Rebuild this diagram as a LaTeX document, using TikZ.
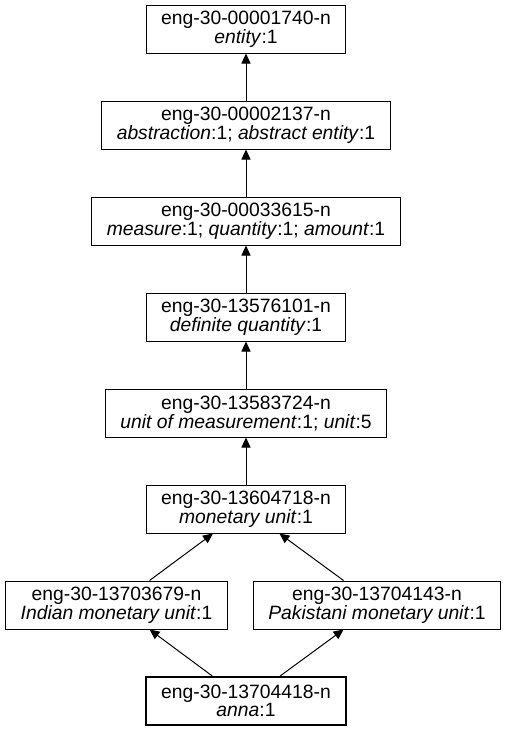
\documentclass[tikz,border=0pt]{standalone}
\usepackage{fontspec}
\setmainfont{Liberation Sans}
\usetikzlibrary{arrows.meta}

\tikzset{
  syn/.style={draw, line width=1pt, align=center, minimum width=198pt, minimum height=48pt,
    inner xsep=15pt, inner ysep=3pt, font=\fontsize{19.3}{16}\selectfont},
  leaf/.style={syn, line width=2pt}
}

\begin{document}
\begin{tikzpicture}[x=1pt, y=-1pt, >={Triangle[length=10pt,width=9pt]}]
\useasboundingbox (0,0) rectangle (507,731);
\node[syn] (entity) at (246,29) {eng-30-00001740-n\\\textit{entity}:1};
\node[syn] (abstraction) at (246,125) {eng-30-00002137-n\\\textit{abstraction}:1; \textit{abstract entity}:1};
\node[syn] (measure) at (246,221) {eng-30-00033615-n\\\textit{measure}:1; \textit{quantity}:1; \textit{amount}:1};
\node[syn] (definite) at (246,317) {eng-30-13576101-n\\\textit{definite quantity}:1};
\node[syn] (unit) at (246,413) {eng-30-13583724-n\\\textit{unit of measurement}:1; \textit{unit}:5};
\node[syn] (monetary) at (246,509) {eng-30-13604718-n\\\textit{monetary unit}:1};
\node[syn] (indian) at (116.5,605) {eng-30-13703679-n\\\textit{Indian monetary unit}:1};
\node[syn] (pakistani) at (377,605) {eng-30-13704143-n\\\textit{Pakistani monetary unit}:1};
\node[leaf] (anna) at (246,701) {eng-30-13704418-n\\\textit{anna}:1};
\draw[->, line width=1pt] (abstraction) -- (entity);
\draw[->, line width=1pt] (measure) -- (abstraction);
\draw[->, line width=1pt] (definite) -- (measure);
\draw[->, line width=1pt] (unit) -- (definite);
\draw[->, line width=1pt] (monetary) -- (unit);
\draw[->, line width=1pt] (indian) -- (monetary);
\draw[->, line width=1pt] (pakistani) -- (monetary);
\draw[->, line width=1pt] (anna) -- (indian);
\draw[->, line width=1pt] (anna) -- (pakistani);
\end{tikzpicture}
\end{document}
